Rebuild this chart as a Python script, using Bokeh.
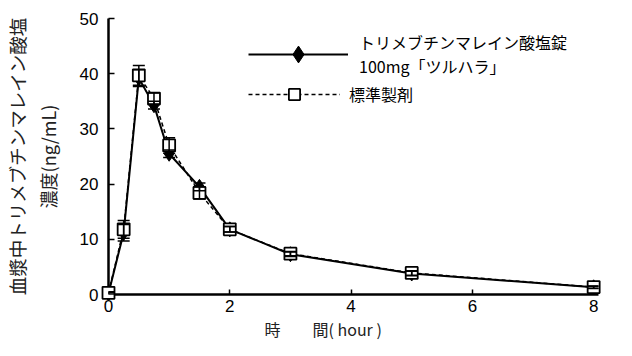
from bokeh.plotting import figure
from bokeh.models import (Range1d, ColumnDataSource, Whisker, TeeHead, Title,
                          Legend, LegendItem, FixedTicker)
from bokeh.embed import file_html
from bokeh.resources import INLINE

# ---- data ----
time_h = [0, 0.25, 0.5, 0.75, 1, 1.5, 2, 3, 5, 8]
test_mean = [0.2, 11.2, 39.2, 34.3, 25.5, 19.5, 11.8, 7.3, 3.8, 1.3]
test_sd = [0.2, 1.5, 1.5, 0.7, 0.7, 0.7, 0.5, 0.4, 0.4, 0.2]
ref_mean = [0.3, 11.8, 39.7, 35.5, 27.0, 18.4, 11.8, 7.4, 3.9, 1.35]
ref_sd = [0.2, 1.6, 1.8, 1.0, 1.4, 1.1, 0.5, 0.4, 0.4, 0.2]
x_ticks = [0, 2, 4, 6, 8]
y_ticks = [0, 10, 20, 30, 40, 50]
test_label = "トリメブチンマレイン酸塩錠\n100mg「ツルハラ」"
ref_label = "標準製剤"
y_title_1 = "血漿中トリメブチンマレイン酸塩"
y_title_2 = "濃度(ng/mL)"
x_title = "時　　間( hour )"

JP = "Noto Sans CJK JP"
NUM = "Liberation Sans"

p = figure(width=616, height=340, output_backend="svg", toolbar_location=None,
           x_range=Range1d(0, 8.08), y_range=Range1d(0, 50),
           min_border_left=108, min_border_right=18, min_border_top=18,
           min_border_bottom=44)
p.outline_line_color = None
p.grid.visible = False
p.background_fill_color = "white"

for ax in (p.xaxis, p.yaxis):
    ax.axis_line_width = 2.5
    ax.axis_line_color = "black"
    ax.major_tick_line_color = "black"
    ax.major_tick_line_width = 1.5
    ax.minor_tick_line_color = None
    ax.major_tick_out = 0
    ax.major_label_text_font = NUM
    ax.major_label_text_font_size = "17px"
    ax.major_label_text_color = "black"

p.xaxis.ticker = FixedTicker(ticks=x_ticks)
p.yaxis.ticker = FixedTicker(ticks=y_ticks)
p.xaxis.major_tick_in = 5
p.yaxis.major_tick_in = 6
p.xaxis.major_label_standoff = 5
p.yaxis.major_label_standoff = 10

# y-axis title: inner line as axis label, outer line as a side title
p.yaxis.axis_label = y_title_2
p.yaxis.axis_label_text_font = JP
p.yaxis.axis_label_text_font_size = "18px"
p.yaxis.axis_label_text_font_style = "normal"
p.yaxis.axis_label_text_color = "#222222"
p.yaxis.axis_label_standoff = 16
p.add_layout(Title(text=y_title_1, align="center", text_font=JP,
                   text_font_size="18.5px", text_font_style="normal",
                   text_color="#222222", standoff=3), "left")
p.add_layout(Title(text=x_title, align="left", offset=156, text_font=JP,
                   text_font_size="16px", text_font_style="normal",
                   text_color="#222222", standoff=0), "below")

src = ColumnDataSource(dict(
    t=time_h,
    tm=test_mean, tlo=[m - s for m, s in zip(test_mean, test_sd)],
    thi=[m + s for m, s in zip(test_mean, test_sd)],
    rm=ref_mean, rlo=[m - s for m, s in zip(ref_mean, ref_sd)],
    rhi=[m + s for m, s in zip(ref_mean, ref_sd)],
))

for lo, hi in (("tlo", "thi"), ("rlo", "rhi")):
    w = Whisker(base="t", lower=lo, upper=hi, source=src, level="overlay",
                line_color="black", line_width=1.5,
                upper_head=TeeHead(size=12, line_color="black", line_width=1.5),
                lower_head=TeeHead(size=12, line_color="black", line_width=1.5))
    p.add_layout(w)

l_ref = p.line("t", "rm", source=src, line_color="black", line_width=1.5,
               line_dash="4 3", level="overlay")
l_test = p.line("t", "tm", source=src, line_color="black", line_width=2,
                level="overlay")
s_test = p.scatter("t", "tm", source=src, marker="diamond", size=15,
                   fill_color="black", line_color="black", level="overlay")
s_ref = p.scatter("t", "rm", source=src, marker="square", size=12,
                  fill_color="white", line_color="black", line_width=1.8,
                  level="overlay")

leg_kw = dict(border_line_color=None, background_fill_alpha=0, padding=0,
              margin=0, spacing=0, label_text_font=JP,
              label_text_font_size="16px", label_text_color="black")
legend_a = Legend(items=[LegendItem(label=test_label,
                                    renderers=[l_test, s_test])],
                  location=(140, 216), glyph_width=100, glyph_height=42,
                  label_standoff=11, **leg_kw)
legend_b = Legend(items=[LegendItem(label=ref_label,
                                    renderers=[l_ref, s_ref])],
                  location=(140, 186), glyph_width=92, glyph_height=28,
                  label_standoff=9, **leg_kw)
p.add_layout(legend_a)
p.add_layout(legend_b)

open("out.html", "w").write(file_html(p, INLINE))
